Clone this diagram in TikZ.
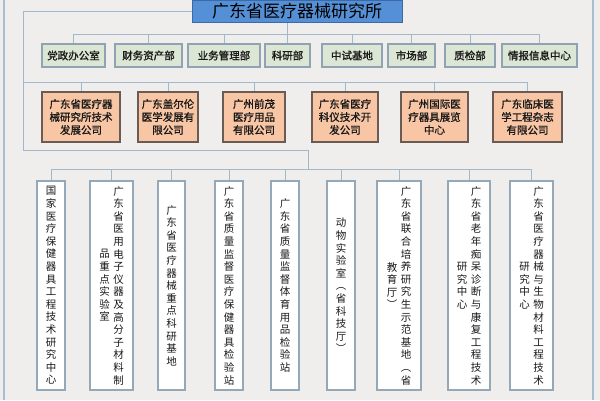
\documentclass[tikz,border=0pt]{standalone}
\usepackage{fontspec}
\newfontfamily\cjk{Noto Sans CJK SC}
\newfontfamily\cjkb[FakeBold=1.2]{Noto Sans CJK SC}
\makeatletter
\def\vst@ck#1{\ifx#1\@nil\else\hbox to 10.5pt{\hss#1\hss}\expandafter\vst@ck\fi}
\newcommand\vcol[1]{$\vcenter{\baselineskip=12.6pt\lineskiplimit=-20pt\vst@ck#1\@nil}$}
\makeatother
\definecolor{bgc}{HTML}{F0EEEC}
\definecolor{titlefill}{HTML}{5590D6}
\definecolor{titleborder}{HTML}{3A6AA8}
\definecolor{deptfill}{HTML}{DCE6D4}
\definecolor{deptborder}{HTML}{8FA3B3}
\definecolor{compfill}{HTML}{F8C6A4}
\definecolor{compborder}{HTML}{6B5B55}
\definecolor{labborder}{HTML}{94A8B8}
\definecolor{connc}{HTML}{A0B8CC}
\definecolor{framec}{HTML}{A8BFD0}
\tikzset{
  titlebox/.style={draw=titleborder, fill=titlefill, line width=1pt, minimum width=210pt, minimum height=22pt, inner sep=0pt, text=black, font=\cjk\fontsize{17}{20}\selectfont},
  dept/.style={draw=deptborder, fill=deptfill, line width=1.2pt, minimum height=23pt, inner sep=0pt, text=black!90, font=\cjkb\fontsize{10.5}{13}\selectfont},
  comp/.style={draw=compborder, fill=compfill, line width=1.2pt, minimum height=50pt, inner sep=0pt, align=center, text=black!90, font=\cjkb\fontsize{10.5}{13}\selectfont},
  lab/.style={draw=labborder, fill=white, line width=1.2pt, minimum height=209pt, inner sep=0pt, text=black!90, font=\cjk\fontsize{10.5}{12.6}\selectfont},
  conn/.style={draw=connc, line width=1pt},
  framel/.style={draw=framec, line width=1.5pt}
}
\begin{document}
\begin{tikzpicture}[x=1pt,y=-1pt]
\fill[bgc] (0,0) rectangle (600,400);
\useasboundingbox (0,0) rectangle (600,400);
\draw[framel] (4,0) -- (4,400);
\draw[framel] (593,0) -- (593,400);

% title
\node[titlebox] (top) at (297,11) {广东省医疗器械研究所};

% row 1
\node[dept, minimum width=63pt] (d1) at (73.5,55.5) {党政办公室};
\node[dept, minimum width=67pt] (d2) at (148.5,55.5) {财务资产部};
\node[dept, minimum width=72pt] (d3) at (224,55.5) {业务管理部};
\node[dept, minimum width=45pt] (d4) at (287.5,55.5) {科研部};
\node[dept, minimum width=60pt] (d5) at (352,55.5) {中试基地};
\node[dept, minimum width=47pt] (d6) at (411.5,55.5) {市场部};
\node[dept, minimum width=50pt] (d7) at (470,55.5) {质检部};
\node[dept, minimum width=75pt] (d8) at (539.5,55.5) {情报信息中心};

% row 2
\node[comp, minimum width=78pt] (c1) at (81,117) {广东省医疗器\\械研究所技术\\发展公司};
\node[comp, minimum width=60pt] (c2) at (168,117) {广东盖尔伦\\医学发展有\\限公司};
\node[comp, minimum width=62pt] (c3) at (254,117) {广州前茂\\医疗用品\\有限公司};
\node[comp, minimum width=66pt] (c4) at (345,117) {广东省医疗\\科仪技术开\\发公司};
\node[comp, minimum width=67pt] (c5) at (434.5,117) {广州国际医\\疗器具展览\\中心};
\node[comp, minimum width=69pt] (c6) at (527.5,117) {广东临床医\\学工程杂志\\有限公司};

% row 3
\node[lab, minimum width=28pt] (l1) at (51,285.5) {\vcol{国家医疗保健器具工程技术研究中心}};
\node[lab, minimum width=43pt] (l2) at (111.5,285.5) {\vcol{品重点实验室}\hspace{3.5pt}\vcol{广东省医用电子仪器及高分子材料制}};
\node[lab, minimum width=27pt] (l3) at (171.5,285.5) {\vcol{广东省医疗器械重点科研基地}};
\node[lab, minimum width=28pt] (l4) at (229,285.5) {\vcol{广东省质量监督医疗保健器具检验站}};
\node[lab, minimum width=28pt] (l5) at (285,285.5) {\vcol{广东省质量监督体育用品检验站}};
\node[lab, minimum width=28pt] (l6) at (341,285.5) {\vcol{动物实验室︵省科技厅︶}};
\node[lab, minimum width=44pt] (l7) at (399,285.5) {\vcol{教育厅︶}\hspace{3.5pt}\vcol{广东省联合培养研究生示范基地︵省}};
\node[lab, minimum width=42pt] (l8) at (469,285.5) {\vcol{研究中心}\hspace{3.5pt}\vcol{广东省老年痴呆诊断与康复工程技术}};
\node[lab, minimum width=43pt] (l9) at (531.5,285.5) {\vcol{研究中心}\hspace{3.5pt}\vcol{广东省医疗器械与生物材料工程技术}};

% helper coordinates
\coordinate (bus1) at (0,34);
\coordinate (rail) at (23,0);
\coordinate (bus2) at (0,82);
\coordinate (hub3) at (308,150);
\coordinate (bus3) at (0,169);

% connectors row 1
\draw[conn] (top.south -| d4.north) -- (d4.north);
\draw[conn] (d1.north) -- (d1.north |- bus1) -- (d8.north |- bus1) -- (d8.north);
\foreach \n in {d2,d3,d5,d6,d7} \draw[conn] (\n.north |- bus1) -- (\n.north);

% connectors row 2 and row 3 feed
\draw[conn] (top.west) -- (top.west -| rail) -- (rail |- hub3) -- (hub3) -- (hub3 |- bus3);
\draw[conn] (rail |- bus2) -- (c6.north |- bus2) -- (c6.north);
\foreach \n in {c1,c2,c3,c4,c5} \draw[conn] (\n.north |- bus2) -- (\n.north);

% connectors row 3
\draw[conn] (l1.north) -- (l1.north |- bus3) -- (l9.north |- bus3) -- (l9.north);
\foreach \n in {l2,l3,l4,l5,l6,l7,l8} \draw[conn] (\n.north |- bus3) -- (\n.north);
\end{tikzpicture}
\end{document}
